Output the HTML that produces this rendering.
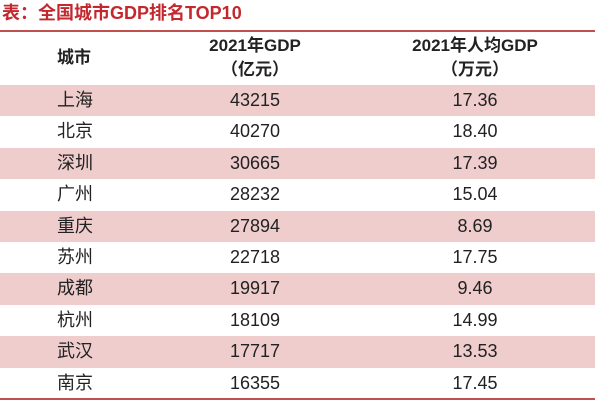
<!DOCTYPE html>
<html><head><meta charset="utf-8"><style>
body{margin:0;width:600px;height:400px;background:#fff;position:relative;overflow:hidden;font-family:"Liberation Sans","Noto Sans CJK SC",sans-serif;color:#222}
.t{position:absolute;left:2px;top:-1px;font-size:18px;font-weight:bold;color:#c3282e}
.line{position:absolute;left:0;width:595px;height:2px;background:#c0504d}
.row{position:absolute;left:0;width:595px;height:31.4px;font-size:18px}
.row div{position:absolute;top:0;line-height:31px}
.c1{left:57px}
.c2{left:155px;width:200px;text-align:center}
.c3{left:375px;width:200px;text-align:center}
.s{background:#efcdcd}
.h{position:absolute;font-size:17px;font-weight:bold;text-align:center;line-height:24px}
</style></head><body>
<div class="t">表：全国城市GDP排名TOP10</div>
<div class="line" style="top:30px"></div>
<div class="h" style="left:57px;top:46px">城市</div>
<div class="h" style="left:155px;width:200px;top:34px">2021年GDP<br>（亿元）</div>
<div class="h" style="left:375px;width:200px;top:34px">2021年人均GDP<br>（万元）</div>
<div class="row s" style="top:85px"><div class="c1">上海</div><div class="c2">43215</div><div class="c3">17.36</div></div>
<div class="row" style="top:116.4px"><div class="c1">北京</div><div class="c2">40270</div><div class="c3">18.40</div></div>
<div class="row s" style="top:147.8px"><div class="c1">深圳</div><div class="c2">30665</div><div class="c3">17.39</div></div>
<div class="row" style="top:179.2px"><div class="c1">广州</div><div class="c2">28232</div><div class="c3">15.04</div></div>
<div class="row s" style="top:210.6px"><div class="c1">重庆</div><div class="c2">27894</div><div class="c3">8.69</div></div>
<div class="row" style="top:242px"><div class="c1">苏州</div><div class="c2">22718</div><div class="c3">17.75</div></div>
<div class="row s" style="top:273.4px"><div class="c1">成都</div><div class="c2">19917</div><div class="c3">9.46</div></div>
<div class="row" style="top:304.8px"><div class="c1">杭州</div><div class="c2">18109</div><div class="c3">14.99</div></div>
<div class="row s" style="top:336.2px"><div class="c1">武汉</div><div class="c2">17717</div><div class="c3">13.53</div></div>
<div class="row" style="top:367.6px"><div class="c1">南京</div><div class="c2">16355</div><div class="c3">17.45</div></div>
<div class="line" style="top:398px"></div>
</body></html>
